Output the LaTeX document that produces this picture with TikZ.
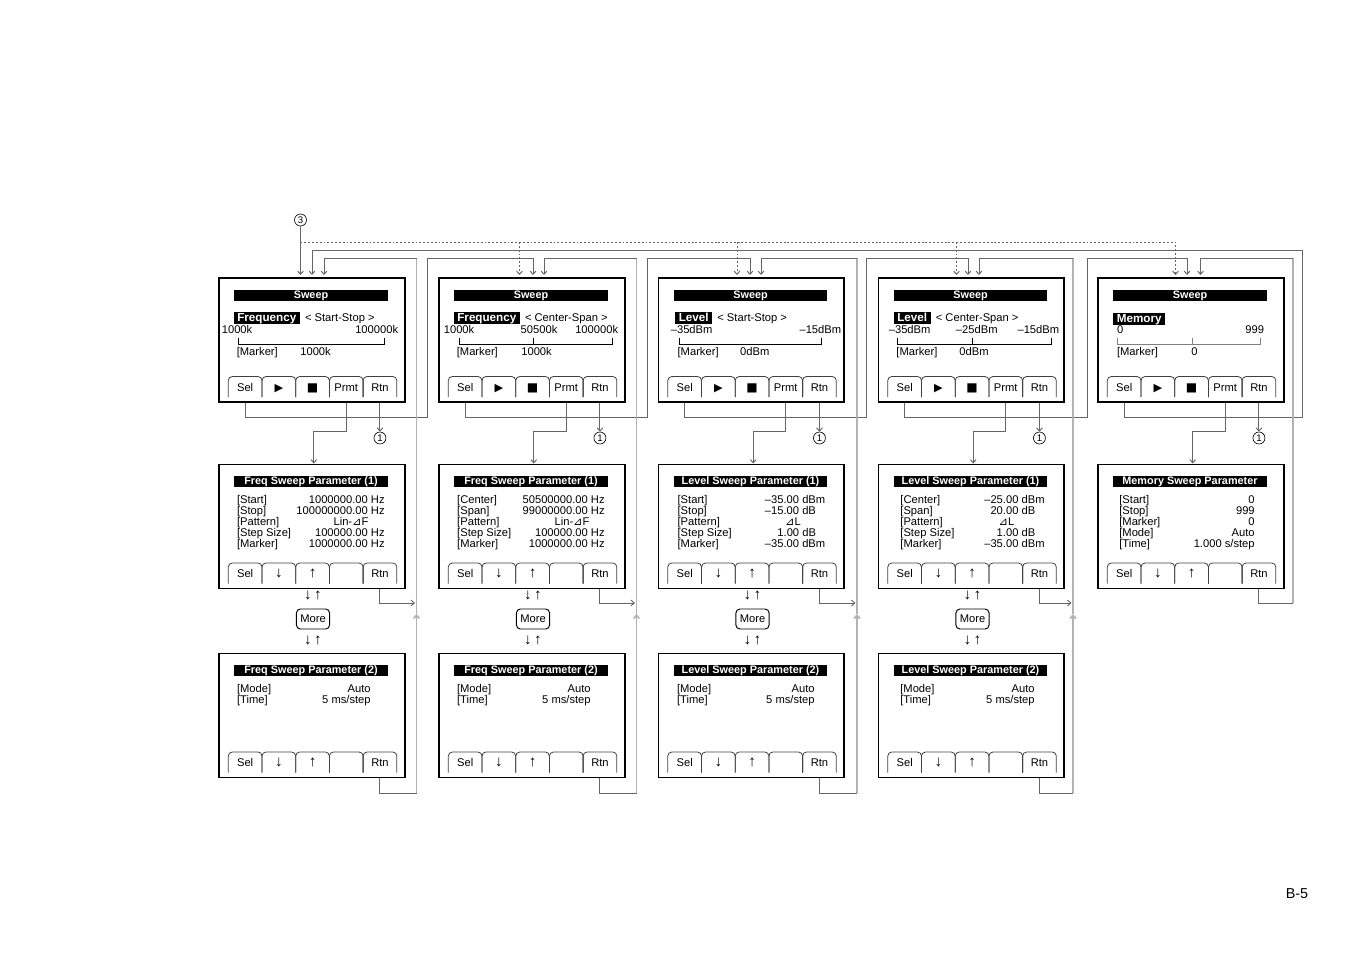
\documentclass[tikz,border=0pt]{standalone}
\usepackage{fontspec}
\setmainfont{Liberation Sans}
\newfontfamily\symfont{DejaVu Sans}
\usetikzlibrary{positioning}
\usetikzlibrary{arrows.meta}

\newcommand{\dtri}{{\symfont ⊿}}
\newcommand{\playkey}{{\symfont\fontsize{7}{7}\selectfont ▶}}
\newcommand{\stopkey}{{\symfont\fontsize{7.5}{7}\selectfont ■}}
\newcommand{\dnkey}{{\fontsize{9.5}{7}\selectfont ↓}}
\newcommand{\upkey}{{\fontsize{9.5}{7}\selectfont ↑}}

% five soft keys along the foot of a screen, named #1key1 ... #1key5
\newcommand{\softkeys}[2]{%
  \foreach \lab [count=\key] in {#2} {
    \draw[keytab] ({10.3+33.7*(\key-1)},120) |- ({10.3+33.7*\key},99.5) -- ({10.3+33.7*\key},120);
    \node[txt] (#1key\key) at ({10.3+33.7*(\key-0.5)},110.5) {\lab};
  }}

\begin{document}
\begin{tikzpicture}[
  x=0.22mm, y=-0.22mm, % one unit = one pixel of the page, y going down
  txt/.style={inner sep=0pt, font=\fontsize{7}{7}\selectfont, text height=5.6pt, text depth=1.2pt},
  lt/.style={txt, anchor=west},
  rt/.style={txt, anchor=east},
  screen/.style={draw, line width=1pt, anchor=north west, inner sep=0pt,
    minimum width=40.9mm, minimum height=27.3mm},
  titlebar/.style={txt, fill=black, text=white, font=\fontsize{6.8}{6.8}\selectfont\bfseries,
    minimum width=33.7mm, minimum height=2.42mm},
  tag/.style={lt, fill=black, text=white, font=\fontsize{7.3}{7}\selectfont\bfseries,
    inner xsep=2.2pt, inner ysep=0.3pt},
  keytab/.style={draw=black!75, line width=0.5pt, rounded corners=2.5pt},
  scalebar/.style={draw, line width=0.6pt},
  wire/.style={draw=black!60, line width=0.6pt},
  retline/.style={draw=black!30, line width=1.1pt},
  dots/.style={dash pattern=on 1.2pt off 1.2pt},
  arrow/.style={-{Straight Barb[length=2pt,width=3.6pt]}},
  circ/.style={circle, draw, line width=0.4pt, inner sep=0pt, minimum size=2.64mm,
    font=\fontsize{6}{6}\selectfont},
  morebox/.style={draw, line width=0.6pt, rounded corners=2.5pt, inner sep=0pt,
    minimum width=7.3mm, minimum height=4.4mm, font=\fontsize{7}{7}\selectfont}
]
\useasboundingbox (0,0) rectangle (1350,954);

% entry points on top of the sweep screens, Sel loops and return lines
\foreach \col/\ta/\tb/\tc/\sx/\rx in {1/300.5/312/324/427/416.5,2/519.5/533/544/647/636.5,
    3/737/750/761/866.5/857,4/956.5/968/979/1087/1073,5/1175.5/1187/1200.5/1302/1293} {
  \coordinate (ina\col) at (\ta,275);
  \coordinate (inb\col) at (\tb,275);
  \coordinate (inc\col) at (\tc,275);
  \coordinate (sel\col) at (\sx,417);
  \coordinate (ret\col) at (\rx,258);
}

%%% sweep screens
\begin{scope}[shift={(218,277)}]
  \node[screen] (sw1) at (0,0) {};
  \node[titlebar] (swt1) at (93,18) {Sweep};
  \node[tag] (md1) at (15.5,41) {Frequency};
  \node[txt, right=1mm of md1] (mdr1) {< Start-Stop >};
  \node[lt] at (3.5,53) {1000k};
  \node[rt] at (180.5,53) {100000k};
  \draw[scalebar] (20.3,60.5) |- (166.3,67) -- (166.3,60.5);
  \node[lt] at (18.5,74.5) {[Marker]};
  \node[lt] at (82,74.5) {1000k};
  \softkeys{sw1}{Sel,\playkey,\stopkey,Prmt,Rtn}
\end{scope}

\begin{scope}[shift={(438,277)}]
  \node[screen] (sw2) at (0,0) {};
  \node[titlebar] (swt2) at (93,18) {Sweep};
  \node[tag] (md2) at (15.5,41) {Frequency};
  \node[txt, right=1mm of md2] (mdr2) {< Center-Span >};
  \node[lt] at (5.5,53) {1000k};
  \node[txt] at (101,53) {50500k};
  \node[rt] at (180.5,53) {100000k};
  \draw[scalebar] (21.2,60.5) |- (174.5,67) -- (174.5,60.5);
  \draw[scalebar] (95.5,60.5) -- (95.5,67);
  \node[lt] at (18.5,74.5) {[Marker]};
  \node[lt] at (83,74.5) {1000k};
  \softkeys{sw2}{Sel,\playkey,\stopkey,Prmt,Rtn}
\end{scope}

\begin{scope}[shift={(657.5,277)}]
  \node[screen] (sw3) at (0,0) {};
  \node[titlebar] (swt3) at (93,18) {Sweep};
  \node[tag] (md3) at (17.5,41) {Level};
  \node[txt, right=1mm of md3] (mdr3) {< Start-Stop >};
  \node[lt] at (13,53) {–35dBm};
  \node[rt] at (184,53) {–15dBm};
  \draw[scalebar] (21.7,60.5) |- (164,67) -- (164,60.5);
  \node[lt] at (19.8,74.5) {[Marker]};
  \node[lt] at (82.4,74.5) {0dBm};
  \softkeys{sw3}{Sel,\playkey,\stopkey,Prmt,Rtn}
\end{scope}

\begin{scope}[shift={(877.5,277)}]
  \node[screen] (sw4) at (0,0) {};
  \node[titlebar] (swt4) at (93,18) {Sweep};
  \node[tag] (md4) at (16,41) {Level};
  \node[txt, right=1mm of md4] (mdr4) {< Center-Span >};
  \node[lt] at (11,53) {–35dBm};
  \node[txt] at (99.3,53) {–25dBm};
  \node[rt] at (182,53) {–15dBm};
  \draw[scalebar] (20.3,60.5) |- (173.6,67) -- (173.6,60.5);
  \draw[scalebar] (95,60.5) -- (95,67);
  \node[lt] at (18.6,74.5) {[Marker]};
  \node[lt] at (81.6,74.5) {0dBm};
  \softkeys{sw4}{Sel,\playkey,\stopkey,Prmt,Rtn}
\end{scope}

\begin{scope}[shift={(1097,277)}]
  \node[screen] (sw5) at (0,0) {};
  \node[titlebar] (swt5) at (93,18) {Sweep};
  \node[tag] (md5) at (16,42) {Memory};
  \node[lt] at (19.7,53) {0};
  \node[rt] at (167.3,53) {999};
  \draw[scalebar, draw=black!50] (20.5,60.5) |- (163.8,67) -- (163.8,60.5);
  \draw[scalebar, draw=black!50] (95,60.5) -- (95,67);
  \node[lt] at (19.7,74.5) {[Marker]};
  \node[lt] at (94,74.5) {0};
  \softkeys{sw5}{Sel,\playkey,\stopkey,Prmt,Rtn}
\end{scope}

%%% parameter (1) screens
\begin{scope}[shift={(218,463.5)}]
  \node[screen] (pa1) at (0,0) {};
  \node[titlebar] (pat1) at (93,17.5) {Freq Sweep Parameter (1)};
  \foreach \lab/\val [count=\i] in {[Start]/1000000.00 Hz,[Stop]/100000000.00 Hz,[Pattern]/{},[Step Size]/100000.00 Hz,[Marker]/1000000.00 Hz} {
    \node[lt] at (18.7,25.5+11*\i) {\lab};
    \node[rt] at (167,25.5+11*\i) {\val};
  }
  \node[txt] at (133,58.5) {Lin-\dtri F};
  \softkeys{pa1}{Sel,\dnkey,\upkey,{},Rtn}
\end{scope}

\begin{scope}[shift={(438,463.5)}]
  \node[screen] (pa2) at (0,0) {};
  \node[titlebar] (pat2) at (93,17.5) {Freq Sweep Parameter (1)};
  \foreach \lab/\val [count=\i] in {[Center]/50500000.00 Hz,[Span]/99000000.00 Hz,[Pattern]/{},[Step Size]/100000.00 Hz,[Marker]/1000000.00 Hz} {
    \node[lt] at (18.9,25.5+11*\i) {\lab};
    \node[rt] at (167,25.5+11*\i) {\val};
  }
  \node[txt] at (134,58.5) {Lin-\dtri F};
  \softkeys{pa2}{Sel,\dnkey,\upkey,{},Rtn}
\end{scope}

\begin{scope}[shift={(657.5,463.5)}]
  \node[screen] (pa3) at (0,0) {};
  \node[titlebar] (pat3) at (93,17.5) {Level Sweep Parameter (1)};
  \foreach \lab/\val [count=\i] in {[Start]/–35.00\rlap{\ dBm},[Stop]/–15.00\rlap{\ dB},[Pattern]/{},[Step Size]/1.00\rlap{\ dB},[Marker]/–35.00\rlap{\ dBm}} {
    \node[lt] at (19.8,25.5+11*\i) {\lab};
    \node[rt] at (142,25.5+11*\i) {\val};
  }
  \node[txt] at (135.5,58.5) {\dtri L};
  \softkeys{pa3}{Sel,\dnkey,\upkey,{},Rtn}
\end{scope}

\begin{scope}[shift={(877.5,463.5)}]
  \node[screen] (pa4) at (0,0) {};
  \node[titlebar] (pat4) at (93,17.5) {Level Sweep Parameter (1)};
  \foreach \lab/\val [count=\i] in {[Center]/–25.00\rlap{\ dBm},[Span]/20.00\rlap{\ dB},[Pattern]/{},[Step Size]/1.00\rlap{\ dB},[Marker]/–35.00\rlap{\ dBm}} {
    \node[lt] at (22.6,25.5+11*\i) {\lab};
    \node[rt] at (141.3,25.5+11*\i) {\val};
  }
  \node[txt] at (129,58.5) {\dtri L};
  \softkeys{pa4}{Sel,\dnkey,\upkey,{},Rtn}
\end{scope}

\begin{scope}[shift={(1097,463.5)}]
  \node[screen] (pa5) at (0,0) {};
  \node[titlebar] (pat5) at (93,17.5) {Memory Sweep Parameter};
  \foreach \lab/\val [count=\i] in {[Start]/0,[Stop]/999,[Marker]/0,[Mode]/Auto,[Time]/{1.000 s/step}} {
    \node[lt] at (22,25.5+11*\i) {\lab};
    \node[rt] at (158,25.5+11*\i) {\val};
  }
  \softkeys{pa5}{Sel,\dnkey,\upkey,{},Rtn}
\end{scope}

%%% parameter (2) screens
\foreach \col/\lx/\lab/\vx/\nm in {1/218/18.7/153/Freq,2/438/18.7/153/Freq,3/657.5/19.2/157.5/Level,4/877.5/22.5/157.5/Level} {
  \begin{scope}[shift={(\lx,652.5)}]
    \node[screen] (pb\col) at (0,0) {};
    \node[titlebar] (pbt\col) at (93,17.5) {\nm{} Sweep Parameter (2)};
    \node[lt] at (\lab,36.5) {[Mode]};
    \node[rt] at (\vx,36.5) {Auto};
    \node[lt] at (\lab,47.5) {[Time]};
    \node[rt] at (\vx,47.5) {5 ms/step};
    \softkeys{pb\col}{Sel,\dnkey,\upkey,{},Rtn}
  \end{scope}
}

% More keys between parameter (1) and (2)
\foreach \col/\mx in {1/313,2/533,3/752.5,4/972.5} {
  \node[txt] (uda\col) at (\mx,596) {\dnkey\hspace{1.5pt}\upkey};
  \node[morebox] (more\col) at (\mx,619) {More};
  \node[txt] (udb\col) at (\mx,641) {\dnkey\hspace{1.5pt}\upkey};
}

%%% connectors
\node[circ] (three) at (ina1 |- 0,220) {3};
\draw[wire,arrow] (three) -- (ina1);
\draw[wire,dots,arrow] (ina1 |- 0,242) -| (ina5);
\foreach \col in {2,3,4}
  \draw[wire,dots,arrow] (ina\col |- 0,242) -- (ina\col);

\foreach \col in {1,...,5} {
  \node[circ] (one\col) at (sw\col key5 |- 0,438) {1};
  \draw[wire,arrow] (sw\col key5 |- sw\col.south) -- (one\col);
  \draw[wire,arrow] (sw\col key4 |- sw\col.south) -- ++(0,29) -| ([xshift=0.44mm]pa\col.north);
}

% Sel steps to the next sweep screen
\foreach \col/\nxt in {1/2,2/3,3/4,4/5}
  \draw[wire,arrow] (sw\col key1 |- sw\col.south) |- (sel\col) -- (sel\col |- 0,258) -| (inb\nxt);
\draw[wire,arrow] (sw5key1 |- sw5.south) |- (sel5) -- (sel5 |- 0,250) -| (inb1);

% Rtn from the parameter screens
\foreach \col in {1,...,4} {
  \draw[wire,arrow,shorten >=1pt] (pa\col key5 |- pa\col.south) |- (ret\col |- 0,603);
  \draw[wire] (pb\col key5 |- pb\col.south) |- (ret\col |- 0,793);
  \draw[retline,arrow] (ret\col |- 0,793) -- (ret\col |- 0,614);
  \draw[retline] (ret\col |- 0,614) -- (ret\col);
  \draw[wire,arrow] (ret\col) -| (inc\col);
}
\draw[wire] (pa5key5 |- pa5.south) |- (ret5 |- 0,603);
\draw[retline] (ret5 |- 0,603) -- (ret5);
\draw[wire,arrow] (ret5) -| (inc5);

\node[txt, font=\fontsize{9}{9}\selectfont] (pageno) at (1297,895) {B-5};
\end{tikzpicture}
\end{document}
